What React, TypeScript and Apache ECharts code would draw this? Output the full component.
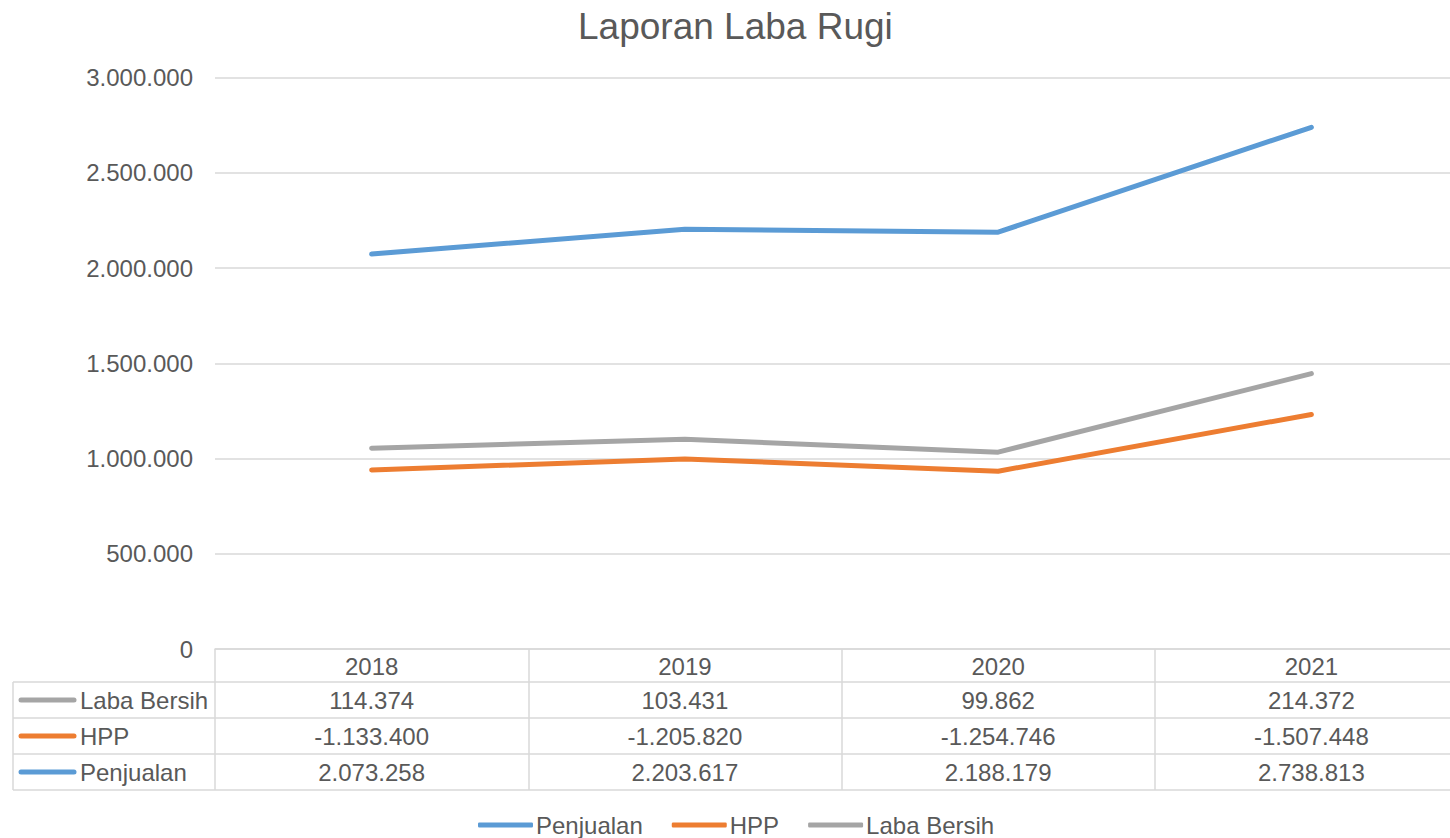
import { useEffect, useRef } from "react";
import * as echarts from "echarts";

const categories = ["2018", "2019", "2020", "2021"];
const penjualan = [2073258, 2203617, 2188179, 2738813];
const hpp = [-1133400, -1205820, -1254746, -1507448];
const labaBersih = [114374, 103431, 99862, 214372];
const seriesNames = ["Penjualan", "HPP", "Laba Bersih"];
const seriesColors = ["#5B9BD5", "#ED7D31", "#A5A5A5"];
const yMin = 0;
const yMax = 3000000;
const yInterval = 500000;

const FONT = '"Liberation Sans", Arial, sans-serif';
const TEXT = "#595959";
const LINE = "#D9D9D9";

const fmt = (v: number) => {
  const s = Math.abs(v)
    .toString()
    .replace(/\B(?=(\d{3})+(?!\d))/g, ".");
  return (v < 0 ? "-" : "") + s;
};

const CHART_W = 1470;
const CHART_H = 838;

export default function App() {
  const ref = useRef<HTMLDivElement>(null);
  useEffect(() => {
    if (!ref.current) return;
    const chart = echarts.init(ref.current, null, { renderer: "svg" });
    const W = CHART_W;
    const gridLeft = 215;
    const gridRight = 2;
    const gridTop = 77.5;
    const axisY = 649;
    const rowH = [33, 36, 36, 36];
    const rowEdges = [axisY];
    rowH.forEach((h) => rowEdges.push(rowEdges[rowEdges.length - 1] + h));
    const tableLeft = 13;
    const seriesData = [penjualan, hpp, labaBersih];

    chart.setOption({
      animation: false,
      textStyle: { fontFamily: FONT },
      title: {
        text: "Laporan Laba Rugi",
        left: 573,
        top: 3,
        textStyle: { fontFamily: FONT, fontSize: 37, fontWeight: "normal", color: TEXT },
      },
      legend: {
        data: seriesNames,
        left: 478,
        top: 813,
        padding: 0,
        itemWidth: 55,
        itemHeight: 5,
        itemGap: 29,
        icon: "roundRect",
        textStyle: { fontFamily: FONT, fontSize: 24, color: TEXT, padding: [0, 0, 0, -2] },
      },
      grid: { left: gridLeft, right: gridRight, top: gridTop, bottom: CHART_H - axisY, containLabel: false },
      xAxis: {
        type: "category",
        data: categories,
        boundaryGap: true,
        axisLine: { lineStyle: { color: LINE, width: 1.5 } },
        axisTick: { show: true, length: rowEdges[4] - axisY, lineStyle: { color: LINE, width: 1.5 } },
        axisLabel: { fontFamily: FONT, fontSize: 24, color: TEXT, margin: 5 },
      },
      yAxis: {
        type: "value",
        min: yMin,
        max: yMax,
        interval: yInterval,
        axisLine: { show: false },
        axisTick: { show: false },
        splitLine: { lineStyle: { color: LINE, width: 1.5 } },
        axisLabel: { fontFamily: FONT, fontSize: 24, color: TEXT, margin: 22, formatter: (v: number) => fmt(v) },
      },
      series: seriesNames.map((n, i) => ({
        name: n,
        type: "line",
        stack: "total",
        stackStrategy: "all",
        data: seriesData[i],
        symbol: "none",
        showSymbol: false,
        color: seriesColors[i],
        lineStyle: { width: 5, color: seriesColors[i], cap: "round", join: "round" },
      })),
    });

    const xs = categories.map((c) => chart.convertToPixel({ xAxisIndex: 0 }, c) as number);
    const tableRows = [
      { name: "Laba Bersih", color: seriesColors[2], values: labaBersih },
      { name: "HPP", color: seriesColors[1], values: hpp },
      { name: "Penjualan", color: seriesColors[0], values: penjualan },
    ];
    const graphic: any[] = [];
    for (let r = 1; r < rowEdges.length; r++) {
      graphic.push({
        type: "line",
        shape: { x1: tableLeft, y1: rowEdges[r], x2: W, y2: rowEdges[r] },
        style: { stroke: LINE, lineWidth: 1.5 },
        silent: true,
      });
    }
    graphic.push({
      type: "line",
      shape: { x1: tableLeft, y1: rowEdges[1], x2: tableLeft, y2: rowEdges[4] },
      style: { stroke: LINE, lineWidth: 1.5 },
      silent: true,
    });
    tableRows.forEach((row, r) => {
      const cy = (rowEdges[r + 1] + rowEdges[r + 2]) / 2;
      graphic.push({
        type: "line",
        shape: { x1: 21, y1: cy, x2: 74, y2: cy },
        style: { stroke: row.color, lineWidth: 5, lineCap: "round" },
        silent: true,
      });
      graphic.push({
        type: "text",
        x: 80,
        y: cy,
        style: { text: row.name, font: `24px ${FONT}`, fill: TEXT, textAlign: "left", textVerticalAlign: "middle" },
        silent: true,
      });
      row.values.forEach((v, i) => {
        graphic.push({
          type: "text",
          x: xs[i],
          y: cy,
          style: { text: fmt(v), font: `24px ${FONT}`, fill: TEXT, textAlign: "center", textVerticalAlign: "middle" },
          silent: true,
        });
      });
    });
    chart.setOption({ graphic });

    return () => chart.dispose();
  }, []);
  return (
    <div
      style={{ position: "absolute", left: 0, top: 0, width: 1450, height: 838, overflow: "hidden", background: "#fff" }}
    >
      <div ref={ref} style={{ width: CHART_W, height: CHART_H }} />
    </div>
  );
}
